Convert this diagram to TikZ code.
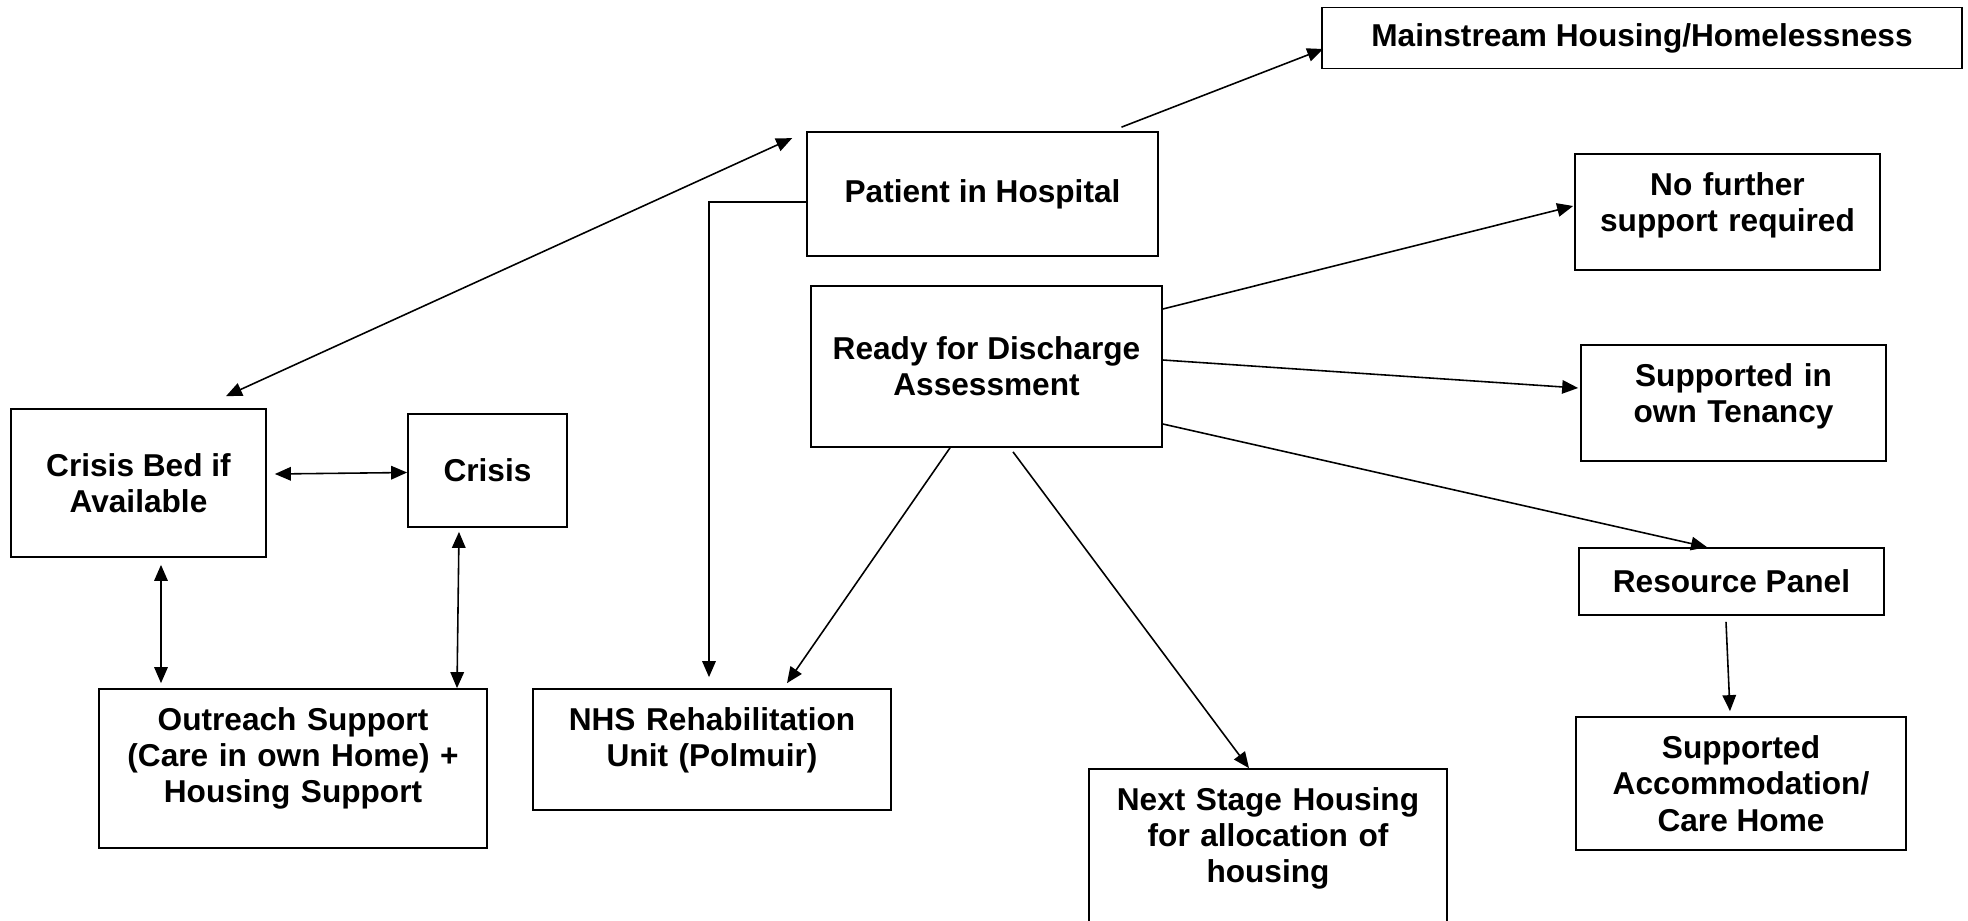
\documentclass[tikz,border=0pt]{standalone}
\usepackage{fontspec}
\setmainfont{Liberation Sans}
\usetikzlibrary{arrows.meta,calc}

\begin{document}
\begin{tikzpicture}[x=0.02cm, y=-0.02cm,
  every node/.style={font=\bfseries\fontsize{18}{20.7}\selectfont},
  box/.style={draw, line width=1pt, align=center, inner sep=0pt},
  topbox/.style={box, text height=0.82cm},
  flow/.style={line width=0.9pt, -{Triangle[length=0.32cm, width=0.27cm]}},
  twoway/.style={line width=0.9pt, {Triangle[length=0.32cm, width=0.27cm]}-{Triangle[length=0.32cm, width=0.27cm]}}]
  \useasboundingbox (0,0) rectangle (1968,920);

  % --- hospital side ---
  \node[box, minimum width=12.8cm, minimum height=1.22cm] (mainstream) at (1642,38) {Mainstream Housing/Homelessness};
  \node[box, minimum width=7.02cm, minimum height=2.48cm] (patient) at (982.5,194) {Patient in Hospital};
  \node[box, minimum width=7.02cm, minimum height=3.22cm] (ready) at (986.5,366.5) {Ready for Discharge\\Assessment};

  % --- discharge outcomes ---
  \node[topbox, text width=6.1cm, text depth=1.5cm] (nofurther) at (1727.5,212) {No further\\support required};
  \node[topbox, text width=6.1cm, text depth=1.5cm] (tenancy) at (1733.5,403) {Supported in\\own Tenancy};
  \node[box, minimum width=6.1cm, minimum height=1.34cm] (panel) at (1731.5,581.5) {Resource Panel};
  \node[box, minimum width=6.6cm, minimum height=2.66cm] (suppacc) at (1741,783.5) {Supported\\Accommodation/\\Care Home};
  \node[topbox, text width=7.16cm, text depth=2.3cm] (nextstage) at (1268,847) {Next Stage Housing\\for allocation of\\housing};
  \node[topbox, text width=7.16cm, text depth=1.6cm] (nhs) at (712,749.5) {NHS Rehabilitation\\Unit (Polmuir)};

  % --- community side ---
  \node[box, minimum width=5.1cm, minimum height=2.96cm] (bed) at (138.5,483) {Crisis Bed if\\Available};
  \node[box, minimum width=3.18cm, minimum height=2.26cm] (crisis) at (487.5,470.5) {Crisis};
  \node[topbox, text width=7.76cm, text depth=2.36cm] (outreach) at (293,768.5) {Outreach Support\\(Care in own Home) +\\Housing Support};

  % hospital links
  \draw[flow] ($(patient.north)+(139,-4)$) -- ($(mainstream.west)+(2,11)$);
  \draw[twoway] ($(bed.north)+(87.5,-12)$) -- ($(patient.north west)+(-14,7)$);
  \draw[flow] ($(patient.west)+(0,8)$) -| ($(nhs.north)+(-3,-11)$);

  % discharge links
  \draw[flow] ($(ready.east)+(0,-57.5)$) -- ($(nofurther.west)+(-1,-6)$);
  \draw[flow] ($(ready.east)+(0,-6.5)$) -- ($(tenancy.west)+(-2,-15)$);
  \draw[flow] ($(ready.east)+(0,57.5)$) -- ($(panel.north)+(-24.5,0)$);
  \draw[flow] ($(ready.south)+(-36.5,0)$) -- ($(nhs.north)+(75,-5)$);
  \draw[flow] ($(ready.south)+(26.5,4)$) -- ($(nextstage.north)+(-19,0)$);
  \draw[flow] ($(panel.south)+(-5.5,6)$) -- ($(suppacc.north)+(-11,-5)$);

  % community links
  \draw[twoway] ($(bed.east)+(8,-9)$) -- ($(crisis.west)+(0,2)$);
  \draw[twoway] ($(bed.south)+(22.5,7)$) -- ($(outreach.north)+(-132,-5)$);
  \draw[twoway] ($(crisis.south)+(-28.5,4)$) -- ($(outreach.north)+(164,0)$);
\end{tikzpicture}
\end{document}
